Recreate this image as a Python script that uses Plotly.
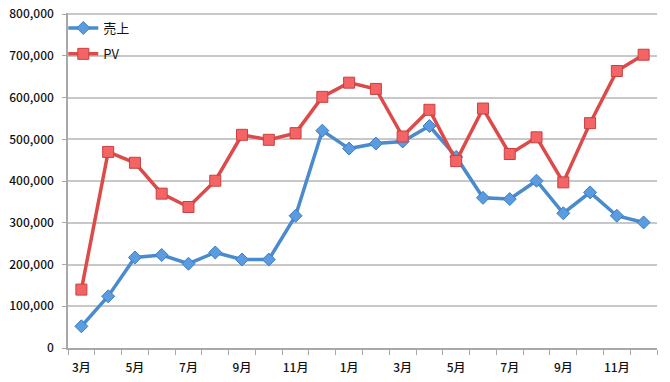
import plotly.graph_objects as go

months = ["3月", "4月", "5月", "6月", "7月", "8月", "9月", "10月", "11月", "12月", "1月", "2月",
          "3月", "4月", "5月", "6月", "7月", "8月", "9月", "10月", "11月", "12月"]
sales = [52000, 124000, 217000, 223000, 202000, 229000, 212000, 212000, 317000, 521000, 478000, 490000,
         495000, 532000, 458000, 360000, 357000, 401000, 323000, 373000, 317000, 301000]
pv = [140000, 470000, 444000, 370000, 338000, 401000, 511000, 499000, 515000, 602000, 636000, 621000,
      507000, 571000, 448000, 574000, 465000, 505000, 397000, 539000, 664000, 703000]
y_ticks = [0, 100000, 200000, 300000, 400000, 500000, 600000, 700000, 800000]

x = list(range(len(months)))
font_family = "Noto Sans CJK JP, Noto Sans, sans-serif"

fig = go.Figure()
fig.add_trace(go.Scatter(
    x=x, y=sales, name="売上", mode="lines+markers", legendgroup="a",
    line=dict(color="#4a8bce", width=3.5),
    marker=dict(symbol="diamond", size=10, color="#5b9be0", line=dict(color="#3f7cbf", width=1)),
))
fig.add_trace(go.Scatter(
    x=x, y=pv, name="PV", mode="lines+markers", legendgroup="b",
    line=dict(color="#dc4a4a", width=3.5),
    marker=dict(symbol="square", size=11, color="#f46464", line=dict(color="#c94040", width=1)),
))

fig.update_layout(
    width=670, height=382,
    margin=dict(l=68, r=13, t=13, b=34, autoexpand=False),
    paper_bgcolor="white", plot_bgcolor="white",
    font=dict(family=font_family, size=12, color="#111111"),
    showlegend=True,
    legend=dict(x=-0.008, y=1.0, xanchor="left", yanchor="top", bgcolor="rgba(0,0,0,0)",
                font=dict(size=13, color="#111111"), traceorder="grouped", tracegroupgap=6,
                itemwidth=30),
    xaxis=dict(
        range=[-0.5, len(months) - 0.5],
        tickmode="array", tickvals=x[::2], ticktext=months[::2],
        ticks="", showgrid=False, zeroline=False,
        showline=True, linecolor="#a8a8a8", linewidth=1.5,
        tickfont=dict(size=12, color="#111111", weight=500), ticklabelstandoff=8,
        ticklabeloverflow="allow",
        minor=dict(tickmode="linear", tick0=-0.5, dtick=1, ticks="outside",
                   ticklen=5, tickcolor="#a8a8a8", tickwidth=1, showgrid=False),
    ),
    yaxis=dict(
        range=[0, 803000], tickmode="array", tickvals=y_ticks,
        tickformat=",", showgrid=True, gridcolor="#c8c8c8", gridwidth=2,
        zeroline=False, showline=True, linecolor="#a8a8a8", linewidth=1.5,
        ticks="outside", ticklen=4, tickcolor="#a8a8a8", ticklabelstandoff=6,
        ticklabeloverflow="allow",
        tickfont=dict(size=12, color="#111111", weight=500),
    ),
)

fig.write_html("out.html", config={"displayModeBar": False},
               post_script="document.body.style.margin='0';")
